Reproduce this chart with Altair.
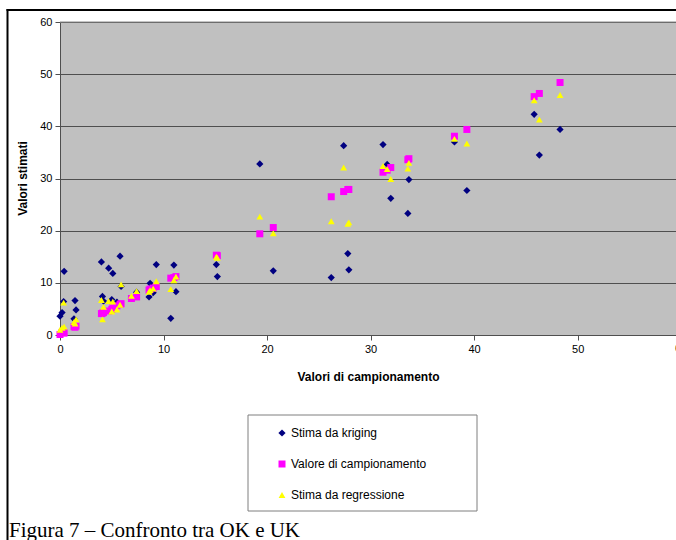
import altair as alt
import pandas as pd

# ---- data ----
campionamento_x = [0.0, 0.2, 0.35, 0.4,
                   1.35, 1.55, 1.45,
                   4.0, 4.1, 4.2, 4.7, 5.0, 5.1, 5.5, 5.8, 5.9,
                   6.9, 7.4, 8.6, 8.7, 9.0, 9.3,
                   10.7, 11.0, 11.2,
                   15.1, 15.2,
                   19.3, 20.6,
                   26.2, 27.4, 27.8, 27.9,
                   31.2, 31.6, 31.95, 33.6, 33.7,
                   38.1, 39.3,
                   45.8, 46.3, 48.3]

stima_kriging = [3.6, 4.3, 6.4, 12.2,
                 3.1, 4.8, 6.6,
                 14.0, 7.4, 6.5, 12.8, 6.8, 11.8, 6.3, 15.1, 9.3,
                 7.0, 8.2, 7.3, 9.9, 8.1, 13.5,
                 3.2, 13.4, 8.3,
                 13.5, 11.2,
                 32.8, 12.3,
                 11.0, 36.3, 15.6, 12.5,
                 36.5, 32.7, 26.2, 23.3, 29.8,
                 37.0, 27.7,
                 42.3, 34.5, 39.4]

valore_campionamento = [0.1, 0.5, 0.4, 0.4,
                        1.6, 1.7, 1.5,
                        4.1, 4.2, 4.3, 4.6, 4.9, 5.2, 5.6, 5.9, 6.0,
                        7.0, 7.3, 8.6, 8.8, 9.0, 9.3,
                        10.9, 11.0, 11.2,
                        15.3, 15.2,
                        19.4, 20.6,
                        26.5, 27.5, 27.9, 27.9,
                        31.2, 31.6, 32.1, 33.6, 33.8,
                        38.1, 39.4,
                        45.7, 46.3, 48.4]

stima_regressione = [1.0, 1.4, 6.2, 1.6,
                     2.5, 3.0, 2.2,
                     6.7, 3.0, 5.4, 6.5, 4.5, 6.4, 4.9, 5.8, 9.7,
                     7.5, 8.4, 8.3, 8.6, 8.9, 10.3,
                     8.8, 10.5, 11.2,
                     15.0, 14.8,
                     22.7, 19.5,
                     21.8, 32.1, 21.3, 21.6,
                     32.4, 31.8, 29.9, 31.9, 33.0,
                     37.6, 36.7,
                     45.0, 41.3, 46.0]

series_names = ["Stima da kriging", "Valore di campionamento", "Stima da regressione"]
series_colors = ["#000080", "#FF00FF", "#FFFF00"]
series_shapes = ["diamond", "square", "triangle-up"]
series_sizes = [52, 46, 62]

x_ticks = [0, 10, 20, 30, 40, 50, 60]
y_ticks = [0, 10, 20, 30, 40, 50, 60]

x_title = "Valori di campionamento"
y_title = "Valori stimati"
caption = "Figura 7 \u2013 Confronto tra OK e UK"

# ---- long table (kriging first, then samples, then regression -> draw order) ----
rows = []
for name, vals in zip(series_names, [stima_kriging, valore_campionamento, stima_regressione]):
    for xv, yv in zip(campionamento_x, vals):
        rows.append({"x": xv, "y": yv, "serie": name})
df = pd.DataFrame(rows)

W, H = 616, 313
FONT = "Liberation Sans"
AX = "#4f4f4f"
x_scale = alt.Scale(domain=[0, 59.5], nice=False, zero=False)

legend = alt.Legend(title=None, orient="none", legendX=216, legendY=405,
                    labelFont=FONT, labelFontSize=12, labelColor="black",
                    labelOffset=3, symbolSize=34, rowPadding=19, padding=0,
                    symbolStrokeWidth=0)

points = alt.Chart(df).mark_point(filled=True, opacity=1, strokeWidth=0).encode(
    x=alt.X("x:Q", scale=x_scale,
            axis=alt.Axis(values=x_ticks, title=x_title, grid=False,
                          domainColor=AX, tickColor=AX, tickSize=5,
                          labelFont=FONT, labelFontSize=11, labelColor="black",
                          labelPadding=3, labelFlush=False,
                          titleFont=FONT, titleFontSize=12, titleFontWeight="bold",
                          titleColor="black", titleX=308, titleY=41,
                          titleBaseline="middle", titleAlign="center")),
    y=alt.Y("y:Q", scale=alt.Scale(domain=[0, 60], nice=False),
            axis=alt.Axis(values=y_ticks, title=y_title, grid=True, gridColor=AX,
                          domainColor=AX, tickColor=AX, tickSize=5,
                          labelFont=FONT, labelFontSize=11, labelColor="black",
                          labelPadding=3,
                          titleFont=FONT, titleFontSize=12, titleFontWeight="bold",
                          titleColor="black", titleX=-38, titleY=156,
                          titleAngle=270, titleBaseline="middle", titleAlign="center")),
    color=alt.Color("serie:N", scale=alt.Scale(domain=series_names, range=series_colors),
                    legend=legend),
    shape=alt.Shape("serie:N", scale=alt.Scale(domain=series_names, range=series_shapes),
                    legend=legend),
    size=alt.Size("serie:N", scale=alt.Scale(domain=series_names, range=series_sizes),
                  legend=None),
)

# last x tick label (60), which sits right at the window edge and is cut off
last_tick = pd.DataFrame({"v": [x_ticks[-1]], "lab": [str(x_ticks[-1])]})
last_label = alt.Chart(last_tick).mark_text(font=FONT, fontSize=11, color="black",
                                            baseline="top", align="center").encode(
    x=alt.X("v:Q", scale=x_scale), y=alt.value(H + 8), text="lab:N")

one = pd.DataFrame({"t": [caption]})

top_border = alt.Chart(one).mark_rule(color="#8a8a8a", strokeWidth=1).encode(
    x=alt.value(0), x2=alt.value(W), y=alt.value(0))

legend_box = alt.Chart(one).mark_rect(fill="white", stroke="#7f7f7f", strokeWidth=1).encode(
    x=alt.value(188), x2=alt.value(417), y=alt.value(393), y2=alt.value(489))

frame_left = alt.Chart(one).mark_rule(color="black", strokeWidth=2).encode(
    x=alt.value(-52.5), y=alt.value(-13), y2=alt.value(520))
frame_top = alt.Chart(one).mark_rule(color="black", strokeWidth=2).encode(
    x=alt.value(-53.5), x2=alt.value(W + 5), y=alt.value(-12))

caption_text = alt.Chart(one).mark_text(align="left", baseline="alphabetic",
                                        font="Liberation Serif", fontSize=21,
                                        color="black").encode(
    x=alt.value(-51), y=alt.value(515), text="t:N")

chart = alt.layer(
    frame_left, frame_top, legend_box, points, top_border, last_label, caption_text
).properties(
    width=W, height=H,
    autosize=alt.AutoSizeParams(type="none"),
    padding={"left": 60, "top": 22, "right": 0, "bottom": 205},
    background="white",
).configure_view(fill="#C0C0C0", stroke="transparent")

chart.save("out.html", embed_options={"renderer": "svg", "actions": False})
